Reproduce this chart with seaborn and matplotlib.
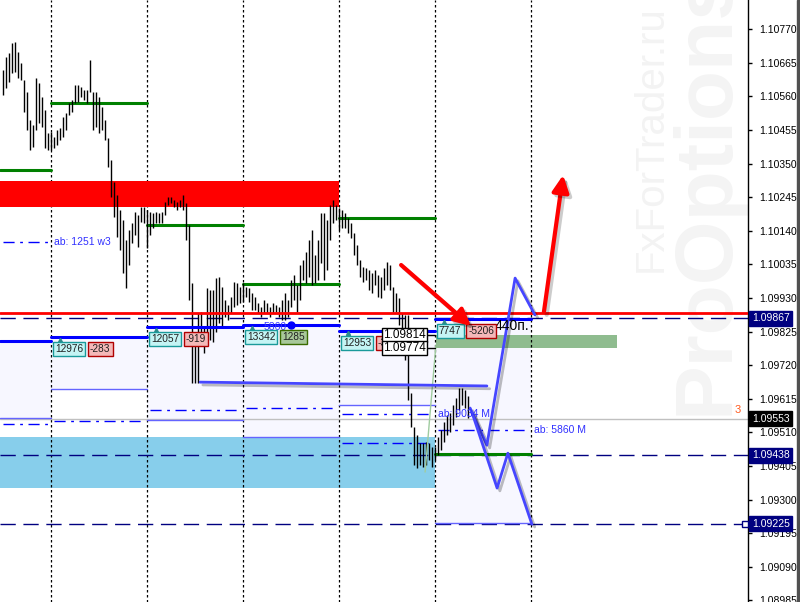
import numpy as np
import pandas as pd
import matplotlib
matplotlib.use("Agg")
import matplotlib.pyplot as plt
import matplotlib.patheffects as pe
from matplotlib.transforms import blended_transform_factory
import seaborn as sns

# ------ Data ------
# bar highs / lows (one bar per time step, starting at t=1)
highs = [
    1.10642, 1.10683, 1.10695, 1.10727, 1.10730, 1.10698, 1.10664, 1.10611, 1.10573, 1.10486,
    1.10470, 1.10617, 1.10602, 1.10558, 1.10517, 1.10445, 1.10448, 1.10433, 1.10455, 1.10461,
    1.10495, 1.10508, 1.10539, 1.10548, 1.10595, 1.10595, 1.10589, 1.10580, 1.10580, 1.10673,
    1.10573, 1.10573, 1.10558, 1.10527, 1.10486, 1.10430, 1.10361, 1.10292, 1.10252, 1.10205,
    1.10173, 1.10111, 1.10142, 1.10164, 1.10198, 1.10189, 1.10214, 1.10214, 1.10205, 1.10198,
    1.10195, 1.10198, 1.10195, 1.10198, 1.10230, 1.10245, 1.10245, 1.10236, 1.10230, 1.10236,
    1.10252, 1.10227, 1.10158, 1.09977, 1.09805, 1.09883, 1.09886, 1.09839, 1.09961, 1.09955,
    1.09955, 1.09992, 1.09995, 1.09964, 1.09923, 1.09908, 1.09933, 1.09980, 1.09977, 1.09964,
    1.09977, 1.09964, 1.09961, 1.09945, 1.09933, 1.09914, 1.09902, 1.09923, 1.09914, 1.09902,
    1.09914, 1.09908, 1.09902, 1.09923, 1.09945, 1.09923, 1.09986, 1.10002, 1.09970, 1.10033,
    1.10048, 1.10073, 1.10111, 1.10142, 1.10064, 1.10111, 1.10195, 1.10195, 1.10173, 1.10220,
    1.10236, 1.10220, 1.10211, 1.10205, 1.10195, 1.10180, 1.10164, 1.10133, 1.10095, 1.10048,
    1.10027, 1.10023, 1.10017, 1.10008, 1.10017, 1.10002, 1.09995, 1.10023, 1.10042, 1.10033,
    1.09964, 1.09945, 1.09930, 1.09883, 1.09877, 1.09877, 1.09633, 1.09527, 1.09502, 1.09477,
    1.09477, 1.09480, 1.09477, 1.09464, 1.09464, 1.09495, 1.09517, 1.09542, 1.09564, 1.09570,
    1.09595, 1.09617, 1.09648, 1.09648, 1.09642, 1.09623,
]
lows = [
    1.10564, 1.10586, 1.10605, 1.10633, 1.10636, 1.10617, 1.10611, 1.10511, 1.10455, 1.10392,
    1.10402, 1.10455, 1.10477, 1.10464, 1.10398, 1.10392, 1.10392, 1.10398, 1.10408, 1.10423,
    1.10433, 1.10455, 1.10502, 1.10511, 1.10539, 1.10542, 1.10558, 1.10548, 1.10539, 1.10573,
    1.10455, 1.10464, 1.10445, 1.10455, 1.10423, 1.10339, 1.10245, 1.10183, 1.10120, 1.10080,
    1.10008, 1.09961, 1.10033, 1.10102, 1.10127, 1.10089, 1.10167, 1.10164, 1.10086, 1.10127,
    1.10148, 1.10164, 1.10164, 1.10164, 1.10189, 1.10220, 1.10227, 1.10214, 1.10205, 1.10214,
    1.10205, 1.10111, 1.09923, 1.09664, 1.09664, 1.09664, 1.09789, 1.09758, 1.09808, 1.09798,
    1.09792, 1.09823, 1.09852, 1.09839, 1.09870, 1.09861, 1.09883, 1.09902, 1.09908, 1.09914,
    1.09917, 1.09933, 1.09917, 1.09892, 1.09892, 1.09883, 1.09870, 1.09883, 1.09883, 1.09870,
    1.09883, 1.09886, 1.09870, 1.09861, 1.09861, 1.09870, 1.09902, 1.09923, 1.09886, 1.09923,
    1.09986, 1.09977, 1.09995, 1.09970, 1.09977, 1.09986, 1.10039, 1.09986, 1.10017, 1.10111,
    1.10164, 1.10173, 1.10142, 1.10148, 1.10148, 1.10133, 1.10117, 1.10064, 1.10033, 1.09995,
    1.09980, 1.09986, 1.09955, 1.09945, 1.09970, 1.09933, 1.09930, 1.09955, 1.09970, 1.09955,
    1.09886, 1.09886, 1.09845, 1.09758, 1.09736, 1.09611, 1.09527, 1.09408, 1.09398, 1.09408,
    1.09402, 1.09408, 1.09423, 1.09402, 1.09423, 1.09439, 1.09455, 1.09480, 1.09502, 1.09511,
    1.09533, 1.09558, 1.09580, 1.09595, 1.09586, 1.09555,
]

# period boundaries (in bars) and per-period levels
period_bounds = [0, 17, 49, 81, 113, 145, 177]
green_levels = [1.10331, 1.10540, 1.10159, 1.09974, 1.10181, 1.09444]
blue_levels = [1.09795, 1.09809, 1.09840, 1.09846, 1.09828, 1.09864]
thin_levels = [1.09555, 1.09645, 1.09548, 1.09495, 1.09595, 1.09227]

# dash-dot "ab" levels: (period index, price)
ab_levels = [(0, 1.10105), (0, 1.09536), (1, 1.09545), (2, 1.09580),
             (3, 1.09586), (4, 1.09567), (4, 1.09477), (5, 1.09517)]
# labels are written just after the end of their line
ab_texts = [(1, 1.10105, "ab: 1251 w3"), (5, 1.09567, "ab: 9034 M"), (6, 1.09517, "ab: 5860 M")]

# period volume tags
tag_main = ["12976", "12057", "13342", "12953", "7747"]
tag_side = ["-283", "-919", "1285", "-385", "-5206"]
tag_side_kind = ["red", "red", "green", "red", "red"]

# zones
red_zone = (1.10214, 1.10295, 0, 113)
sky_zone = (1.09336, 1.09495, 0, 145)
green_zone = (1.09773, 1.09814, 145.3, 205.7)

red_level = 1.09883
bid_level = 1.09553
dashed_levels = [1.09867, 1.09438, 1.09225]
price_tags = [(1.09867, "#000080"), (1.09553, "#000000"), (1.09438, "#000080"), (1.09225, "#000080")]
box_levels = [1.09814, 1.09774]

# projected paths (time, price)
proj_a_t = [156.7, 162.3, 171.7, 178.3]
proj_a_p = [1.09586, 1.09470, 1.09992, 1.09877]
proj_b_t = [157.3, 165.7, 169.3, 177.3]
proj_b_p = [1.09573, 1.09336, 1.09445, 1.09223]
long_t = [66.7, 162.3]
long_p = [1.09667, 1.09655]
ind_t = [141.7, 145.3]
ind_p = [1.09386, 1.09783]

arrows = [((133.7, 1.10033), (157.0, 1.09842)), ((181.3, 1.09886), (187.7, 1.10314))]

ytick_vals = [1.10770, 1.10665, 1.10560, 1.10455, 1.10350, 1.10245, 1.10140, 1.10035,
              1.09930, 1.09825, 1.09720, 1.09615, 1.09510, 1.09405, 1.09300, 1.09195,
              1.09090, 1.08985]

# ------ Plot ------
sns.set_style("white")
plt.rcParams['font.family'] = ['Liberation Sans', 'DejaVu Sans']

fig = plt.figure(figsize=(8, 6.02), dpi=100)
ax = fig.add_axes([0, 0, 748 / 800, 1])
ax.set_facecolor("none")
ax.set_xlim(0, 748 / 3)
ax.set_ylim(1.08980, 1.10861)

# watermark
ax.text(662 / 800, 1 - 272 / 602, "FxForTrader.ru", transform=fig.transFigure, rotation=90,
        rotation_mode="anchor", ha="left", va="baseline", fontsize=29, color="#F3F3F3", zorder=0.1)
ax.text(728 / 800, 1 - 415 / 602, "ProOptions", transform=fig.transFigure, rotation=90,
        rotation_mode="anchor", ha="left", va="baseline", fontsize=59, fontweight="bold",
        color="#F4F4F4", zorder=0.1)

# lavender zones below each blue level
for k in range(len(blue_levels)):
    a, b = period_bounds[k], period_bounds[k + 1]
    ax.fill_between([a, b], thin_levels[k], blue_levels[k], color="#F7F7FF", lw=0, zorder=0.5)

ax.fill_between([sky_zone[2], sky_zone[3]], sky_zone[0], sky_zone[1], color="#87CEEB", lw=0, zorder=1)
ax.fill_between([green_zone[2], green_zone[3]], green_zone[0], green_zone[1], color="#8FBC8F", lw=0, zorder=1)

# period separators
for t in period_bounds[1:]:
    ax.axvline(t, color="black", lw=0.9, ls=(0, (2, 2)), zorder=1.5)

ax.fill_between([red_zone[2], red_zone[3]], red_zone[0], red_zone[1], color="#FF0000", lw=0, zorder=1.8)

# horizontal levels
ax.axhline(bid_level, color="#C0C0C0", lw=1, zorder=2)
for lv in dashed_levels:
    ax.axhline(lv, color="#000080", lw=1, ls=(0, (11, 5.5)), zorder=2)

for k in range(len(thin_levels)):
    a, b = period_bounds[k], period_bounds[k + 1]
    ax.plot([a, b], [thin_levels[k]] * 2, color="#6464FF", lw=1, zorder=2)

for k, lv in ab_levels:
    a, b = period_bounds[k], period_bounds[k + 1]
    ax.plot([a + 1, b - 1], [lv, lv], color="#0000FF", lw=1, ls=(0, (8, 4, 2, 4)), zorder=2)
for k, lv, txt in ab_texts:
    ax.text(period_bounds[k] + 1, lv, txt, color="#3030FF", fontsize=7.5, va="center", ha="left", zorder=6)

for k in range(len(green_levels)):
    a, b = period_bounds[k], period_bounds[k + 1]
    ax.plot([a, b], [green_levels[k]] * 2, color="#008000", lw=2.2, zorder=2.5)

# price bars
t_bars = np.arange(1, len(highs) + 1)
ax.vlines(t_bars, lows, highs, color="black", lw=1.0, zorder=3)

ax.axhline(red_level, color="#FF0000", lw=2, zorder=3.5)

for k in range(len(blue_levels)):
    a, b = period_bounds[k], period_bounds[k + 1]
    ax.plot([a, b], [blue_levels[k]] * 2, color="#0000FF", lw=2.2, zorder=4)
ax.plot([97], [blue_levels[3]], "o", color="#0000FF", ms=5, zorder=4)

# projected lines (seaborn) with shadow
shadow = [pe.SimpleLineShadow(offset=(2, -2), alpha=0.25), pe.Normal()]
for tt, pp in [(long_t, long_p), (proj_a_t, proj_a_p), (proj_b_t, proj_b_p)]:
    df = pd.DataFrame({"t": tt, "p": pp})
    sns.lineplot(data=df, x="t", y="p", sort=False, estimator=None, ax=ax,
                 color="#4646FF", lw=2, zorder=5)
    ax.lines[-1].set_path_effects(shadow)
sns.lineplot(x=ind_t, y=ind_p, sort=False, estimator=None, ax=ax, color="#A0CCA0", lw=1, zorder=3)

# volume tags on each period
for k, (m, s, kind) in enumerate(zip(tag_main, tag_side, tag_side_kind)):
    t0 = period_bounds[k + 1]
    lv = blue_levels[k + 1]
    ax.plot([t0 + 3], [lv - 0.00009], marker="^", color="#2E8B8B", ms=3, zorder=6)
    ax.annotate(m, xy=(t0, lv), xytext=(4, -12), textcoords="offset pixels", ha="left", va="center",
                fontsize=7.3, color="#202020", zorder=7,
                bbox=dict(boxstyle="square,pad=0.2", fc="#C4F4F4", ec="#1A9A9A", lw=1))
    fc, ec = ("#F4B8B8", "#B00000") if kind == "red" else ("#A8C89A", "#3A6B00")
    ax.annotate(s, xy=(t0, lv), xytext=(4 + len(m) * 5.6 + 7, -12), textcoords="offset pixels",
                ha="left", va="center", fontsize=7.3, color="#202020", zorder=7,
                bbox=dict(boxstyle="square,pad=0.2", fc=fc, ec=ec, lw=1))

ax.text(87.7, 1.09839, "5860", color="#3A3AFF", fontsize=7.5, ha="left", va="center", zorder=6)

# price boxes at the end of the last period
for lv in box_levels:
    ax.plot([142, period_bounds[5]], [lv, lv], color="black", lw=1, zorder=6)
    ax.text(142, lv, f"{lv:.5f}", ha="right", va="center", fontsize=8.5, color="black", zorder=8,
            bbox=dict(boxstyle="square,pad=0.1", fc="white", ec="black", lw=1))

ax.text(164.8, 1.09842, "440п.", fontsize=10, color="black", ha="left", va="center", zorder=6)
ax.text(247, 1.09565, "3", fontsize=8, color="#FF5A1E", ha="right", va="bottom", zorder=6)
ax.plot([248.3], [dashed_levels[2]], "s", mfc="white", mec="#000080", ms=4, zorder=6)

# red arrows
for (x0, y0), (x1, y1) in arrows:
    ax.annotate("", xy=(x1, y1), xytext=(x0, y0), zorder=9,
                arrowprops=dict(arrowstyle="-|>,head_length=1.0,head_width=0.5", color="#FF0000",
                                lw=3, shrinkA=0, shrinkB=0,
                                path_effects=[pe.SimpleLineShadow(offset=(2, -2), alpha=0.2), pe.Normal()]))

# right price axis
ax.set_xticks([])
ax.yaxis.tick_right()
ax.set_yticks(ytick_vals)
ax.set_yticklabels([f"{v:.5f}" for v in ytick_vals])
ax.tick_params(axis="y", labelsize=7.5, length=3, width=1, direction="out", pad=5, colors="black")
for side in ["top", "left", "bottom"]:
    ax.spines[side].set_visible(False)
ax.spines["right"].set_color("black")
ax.spines["right"].set_linewidth(1)

tr = blended_transform_factory(ax.transAxes, ax.transData)
for lv, bg in price_tags:
    ax.text(1 + 4 / 748, lv, f"{lv:.5f}", transform=tr, ha="left", va="center", fontsize=7.5,
            color="white", zorder=10, clip_on=False,
            bbox=dict(boxstyle="square,pad=0.25", fc=bg, ec=bg))

fig.patches.append(plt.Rectangle((797 / 800, 0), 3 / 800, 1, transform=fig.transFigure,
                                 color="#505050", zorder=5))

fig.savefig("out.png", dpi=100, facecolor="white")
